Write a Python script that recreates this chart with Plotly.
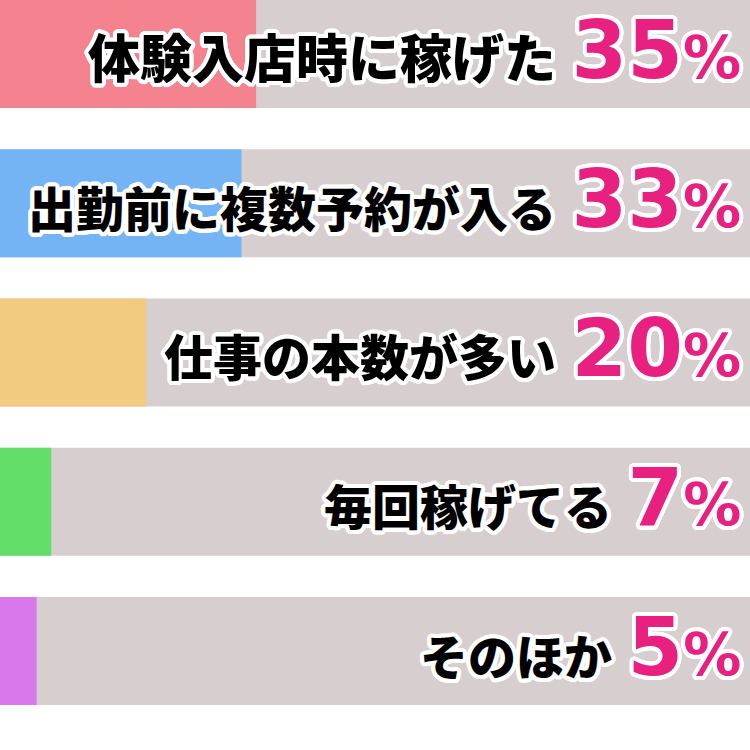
import math
import plotly.graph_objects as go

# survey answers, top to bottom
labels = ["体験入店時に稼げた", "出勤前に複数予約が入る", "仕事の本数が多い", "毎回稼げてる", "そのほか"]
percents = [35, 33, 20, 7, 5]
bar_colors = ["#F5828F", "#74B4F4", "#F2CA80", "#63DE69", "#D878EB"]
label_sizes = [52, 48, 49, 48, 48]

X_MAX = 102.5  # axis max, grey track runs the full width
TRACK = "#D7CECF"
PINK = "#E8207F"

# white outline round the text, built from several text-shadows
outline = ", ".join(
    f"{4 * math.cos(math.radians(a)):.1f}px {4 * math.sin(math.radians(a)):.1f}px 0 #fff"
    for a in range(0, 360, 15)
)

fig = go.Figure()
fig.add_trace(go.Bar(
    y=labels, x=[X_MAX] * len(labels), orientation="h",
    marker=dict(color=TRACK, line_width=0), width=0.724, hoverinfo="skip",
))
fig.add_trace(go.Bar(
    y=labels, x=percents, orientation="h",
    marker=dict(color=bar_colors, line_width=0), width=0.724, hoverinfo="skip",
))

for lab, p, fs in zip(labels, percents, label_sizes):
    txt = (f"{lab}<span style='font-size:34px'>&nbsp;&nbsp;</span>"
           f"<span style='font-family:DejaVu Sans;font-size:80px;color:{PINK}'>{p}</span>"
           f"<span style='font-family:DejaVu Sans;font-size:58px;color:{PINK}'>%</span>")
    fig.add_annotation(
        x=0.99, xref="paper", xanchor="right",
        y=lab, yref="y", yanchor="middle", yshift=4,
        text=txt, showarrow=False,
        font=dict(family="Noto Sans CJK JP", size=fs, color="#000", weight=900, shadow=outline),
    )

fig.update_layout(
    width=750, height=750,
    margin=dict(l=0, r=0, t=0, b=0),
    barmode="overlay",
    showlegend=False,
    plot_bgcolor="#fff", paper_bgcolor="#fff",
    xaxis=dict(range=[0, X_MAX], visible=False, fixedrange=True),
    yaxis=dict(range=[4.663, -0.362], visible=False, fixedrange=True, type="category"),
)

fig.write_html("out.html", config={"displayModeBar": False},
               post_script="document.body.style.margin='0';")
